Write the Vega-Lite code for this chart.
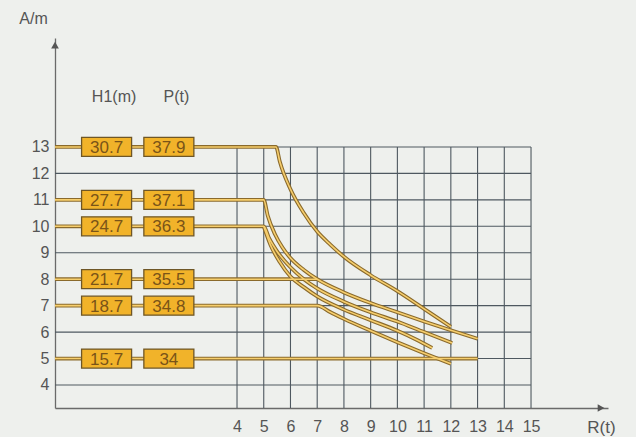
{
  "$schema": "https://vega.github.io/schema/vega-lite/v6.json",
  "width": 553,
  "height": 370,
  "autosize": "none",
  "padding": {"left": 55, "top": 38, "right": 28, "bottom": 29},
  "background": "#eef0ed",
  "config": {"view": {"stroke": null}, "font": "Liberation Sans"},
  "datasets": {
    "gridx": [{"g": 4}, {"g": 5}, {"g": 6}, {"g": 7}, {"g": 8}, {"g": 9}, {"g": 10}, {"g": 11}, {"g": 12}, {"g": 13}, {"g": 14}, {"g": 15}],
    "gridy": [{"g": 4}, {"g": 5}, {"g": 6}, {"g": 7}, {"g": 8}, {"g": 9}, {"g": 10}, {"g": 11}, {"g": 12}, {"g": 13}],
    "lines": [
      {"s": "A", "x": -2.81, "y": 13}, {"s": "A", "x": 5.46, "y": 13}, {"s": "A", "x": 5.6, "y": 12.45}, {"s": "A", "x": 6, "y": 11.4}, {"s": "A", "x": 6.5, "y": 10.5}, {"s": "A", "x": 7, "y": 9.8}, {"s": "A", "x": 7.5, "y": 9.3}, {"s": "A", "x": 8, "y": 8.85}, {"s": "A", "x": 9, "y": 8.15}, {"s": "A", "x": 10, "y": 7.55}, {"s": "A", "x": 11, "y": 6.88}, {"s": "A", "x": 12, "y": 6.2},
      {"s": "B", "x": -2.81, "y": 11}, {"s": "B", "x": 5, "y": 11}, {"s": "B", "x": 5.15, "y": 10.4}, {"s": "B", "x": 5.42, "y": 9.7}, {"s": "B", "x": 5.7, "y": 9.2}, {"s": "B", "x": 6, "y": 8.8}, {"s": "B", "x": 6.5, "y": 8.35}, {"s": "B", "x": 7, "y": 8.0}, {"s": "B", "x": 8, "y": 7.5}, {"s": "B", "x": 9, "y": 7.1}, {"s": "B", "x": 10, "y": 6.75}, {"s": "B", "x": 11, "y": 6.4}, {"s": "B", "x": 12, "y": 6.07}, {"s": "B", "x": 13, "y": 5.75},
      {"s": "C", "x": -2.81, "y": 10}, {"s": "C", "x": 5, "y": 10}, {"s": "C", "x": 5.2, "y": 9.55}, {"s": "C", "x": 5.5, "y": 9.05}, {"s": "C", "x": 6, "y": 8.45}, {"s": "C", "x": 6.5, "y": 8.0}, {"s": "C", "x": 7, "y": 7.65}, {"s": "C", "x": 8, "y": 7.15}, {"s": "C", "x": 9, "y": 6.75}, {"s": "C", "x": 10, "y": 6.4}, {"s": "C", "x": 11, "y": 6.0}, {"s": "C", "x": 12.05, "y": 5.59},
      {"s": "D", "x": 5, "y": 10}, {"s": "D", "x": 5.25, "y": 9.3}, {"s": "D", "x": 5.6, "y": 8.65}, {"s": "D", "x": 6, "y": 8.1}, {"s": "D", "x": 6.5, "y": 7.7}, {"s": "D", "x": 7, "y": 7.35}, {"s": "D", "x": 8, "y": 6.85}, {"s": "D", "x": 9, "y": 6.45}, {"s": "D", "x": 10, "y": 6.05}, {"s": "D", "x": 10.7, "y": 5.72}, {"s": "D", "x": 11.3, "y": 5.4},
      {"s": "E", "x": -2.81, "y": 7}, {"s": "E", "x": 7, "y": 7}, {"s": "E", "x": 7.5, "y": 6.75}, {"s": "E", "x": 8, "y": 6.5}, {"s": "E", "x": 9, "y": 6.05}, {"s": "E", "x": 10, "y": 5.62}, {"s": "E", "x": 11, "y": 5.2}, {"s": "E", "x": 12, "y": 4.8},
      {"s": "F8", "x": -2.81, "y": 8}, {"s": "F8", "x": 7.0, "y": 8},
      {"s": "F5", "x": -2.81, "y": 5}, {"s": "F5", "x": 13, "y": 5}
    ],
    "boxes": [
      {"A": 13, "H1": "30.7", "P": "37.9"},
      {"A": 11, "H1": "27.7", "P": "37.1"},
      {"A": 10, "H1": "24.7", "P": "36.3"},
      {"A": 8, "H1": "21.7", "P": "35.5"},
      {"A": 7, "H1": "18.7", "P": "34.8"},
      {"A": 5, "H1": "15.7", "P": "34"}
    ]
  },
  "layer": [
    {
      "data": {"name": "gridx"},
      "mark": {"type": "rule", "color": "#4e5860", "strokeWidth": 1.1},
      "encoding": {
        "x": {"field": "g", "type": "quantitative",
          "scale": {"domain": [-2.81, 17.88], "nice": false, "zero": false},
          "axis": {"values": [4, 5, 6, 7, 8, 9, 10, 11, 12, 13, 14, 15], "title": "R(t)", "grid": false, "ticks": false,
            "labelOverlap": false, "labelFontSize": 16, "labelColor": "#555", "labelPadding": 10, "labelFont": "Liberation Sans",
            "domainColor": "#6a6a6a", "domainWidth": 1.3,
            "titleFontWeight": "normal", "titleFontSize": 17, "titleColor": "#555", "titleFont": "Liberation Sans",
            "titleX": 546, "titleY": 19, "titleAlign": "center", "titleBaseline": "middle", "titleAnchor": null}},
        "y": {"datum": 3.13, "type": "quantitative",
          "scale": {"domain": [3.13, 17.12], "nice": false, "zero": false},
          "axis": {"values": [4, 5, 6, 7, 8, 9, 10, 11, 12, 13], "title": "A/m", "grid": false, "ticks": false,
            "labelFontSize": 16, "labelColor": "#555", "labelPadding": 6, "labelFont": "Liberation Sans",
            "domainColor": "#6a6a6a", "domainWidth": 1.3,
            "titleFontWeight": "normal", "titleFontSize": 16, "titleColor": "#555", "titleFont": "Liberation Sans",
            "titleAngle": 0, "titleX": -22, "titleY": -20, "titleAlign": "center", "titleBaseline": "middle", "titleAnchor": null}},
        "y2": {"datum": 13}
      }
    },
    {
      "data": {"name": "gridy"},
      "mark": {"type": "rule", "color": "#4e5860", "strokeWidth": 1.1},
      "encoding": {
        "y": {"field": "g", "type": "quantitative"},
        "x": {"datum": -2.81, "type": "quantitative"},
        "x2": {"datum": 15}
      }
    },
    {
      "data": {"name": "lines"},
      "mark": {"type": "line", "color": "#8a6a2c", "strokeWidth": 3.8, "interpolate": "monotone"},
      "encoding": {
        "x": {"field": "x", "type": "quantitative"},
        "y": {"field": "y", "type": "quantitative"},
        "detail": {"field": "s"}
      }
    },
    {
      "data": {"name": "lines"},
      "mark": {"type": "line", "color": "#f7cf6e", "strokeWidth": 1.6, "interpolate": "monotone"},
      "encoding": {
        "x": {"field": "x", "type": "quantitative"},
        "y": {"field": "y", "type": "quantitative"},
        "detail": {"field": "s"}
      }
    },
    {
      "data": {"name": "boxes"},
      "mark": {"type": "point", "shape": "M-1,-0.38H1V0.38H-1Z", "size": 2500, "filled": true, "fill": "#f1b32a", "stroke": "#6e5626", "strokeWidth": 1.3, "opacity": 1},
      "encoding": {
        "x": {"datum": -0.88, "type": "quantitative"},
        "y": {"field": "A", "type": "quantitative"}
      }
    },
    {
      "data": {"name": "boxes"},
      "mark": {"type": "point", "shape": "M-1,-0.38H1V0.38H-1Z", "size": 2500, "filled": true, "fill": "#f1b32a", "stroke": "#6e5626", "strokeWidth": 1.3, "opacity": 1},
      "encoding": {
        "x": {"datum": 1.45, "type": "quantitative"},
        "y": {"field": "A", "type": "quantitative"}
      }
    },
    {
      "data": {"name": "boxes"},
      "mark": {"type": "text", "fontSize": 17, "color": "#7a5418", "font": "Liberation Sans", "align": "center", "baseline": "middle", "dy": 1},
      "encoding": {
        "x": {"datum": -0.88, "type": "quantitative"},
        "y": {"field": "A", "type": "quantitative"},
        "text": {"field": "H1"}
      }
    },
    {
      "data": {"name": "boxes"},
      "mark": {"type": "text", "fontSize": 17, "color": "#7a5418", "font": "Liberation Sans", "align": "center", "baseline": "middle", "dy": 1},
      "encoding": {
        "x": {"datum": 1.45, "type": "quantitative"},
        "y": {"field": "A", "type": "quantitative"},
        "text": {"field": "P"}
      }
    },
    {
      "data": {"values": [{"t": "H1(m)", "hx": -0.6, "hy": 14.9}, {"t": "P(t)", "hx": 1.73, "hy": 14.9}]},
      "mark": {"type": "text", "fontSize": 16, "color": "#555", "font": "Liberation Sans", "align": "center", "baseline": "middle"},
      "encoding": {
        "x": {"field": "hx", "type": "quantitative"},
        "y": {"field": "hy", "type": "quantitative"},
        "text": {"field": "t"}
      }
    },
    {
      "data": {"values": [{"ax": 17.62, "ay": 3.13, "sh": "triangle-right"}, {"ax": -2.81, "ay": 16.85, "sh": "triangle-up"}]},
      "mark": {"type": "point", "filled": true, "color": "#555", "size": 60, "opacity": 1},
      "encoding": {
        "x": {"field": "ax", "type": "quantitative"},
        "y": {"field": "ay", "type": "quantitative"},
        "shape": {"field": "sh", "type": "nominal", "scale": null, "legend": null}
      }
    }
  ]
}
